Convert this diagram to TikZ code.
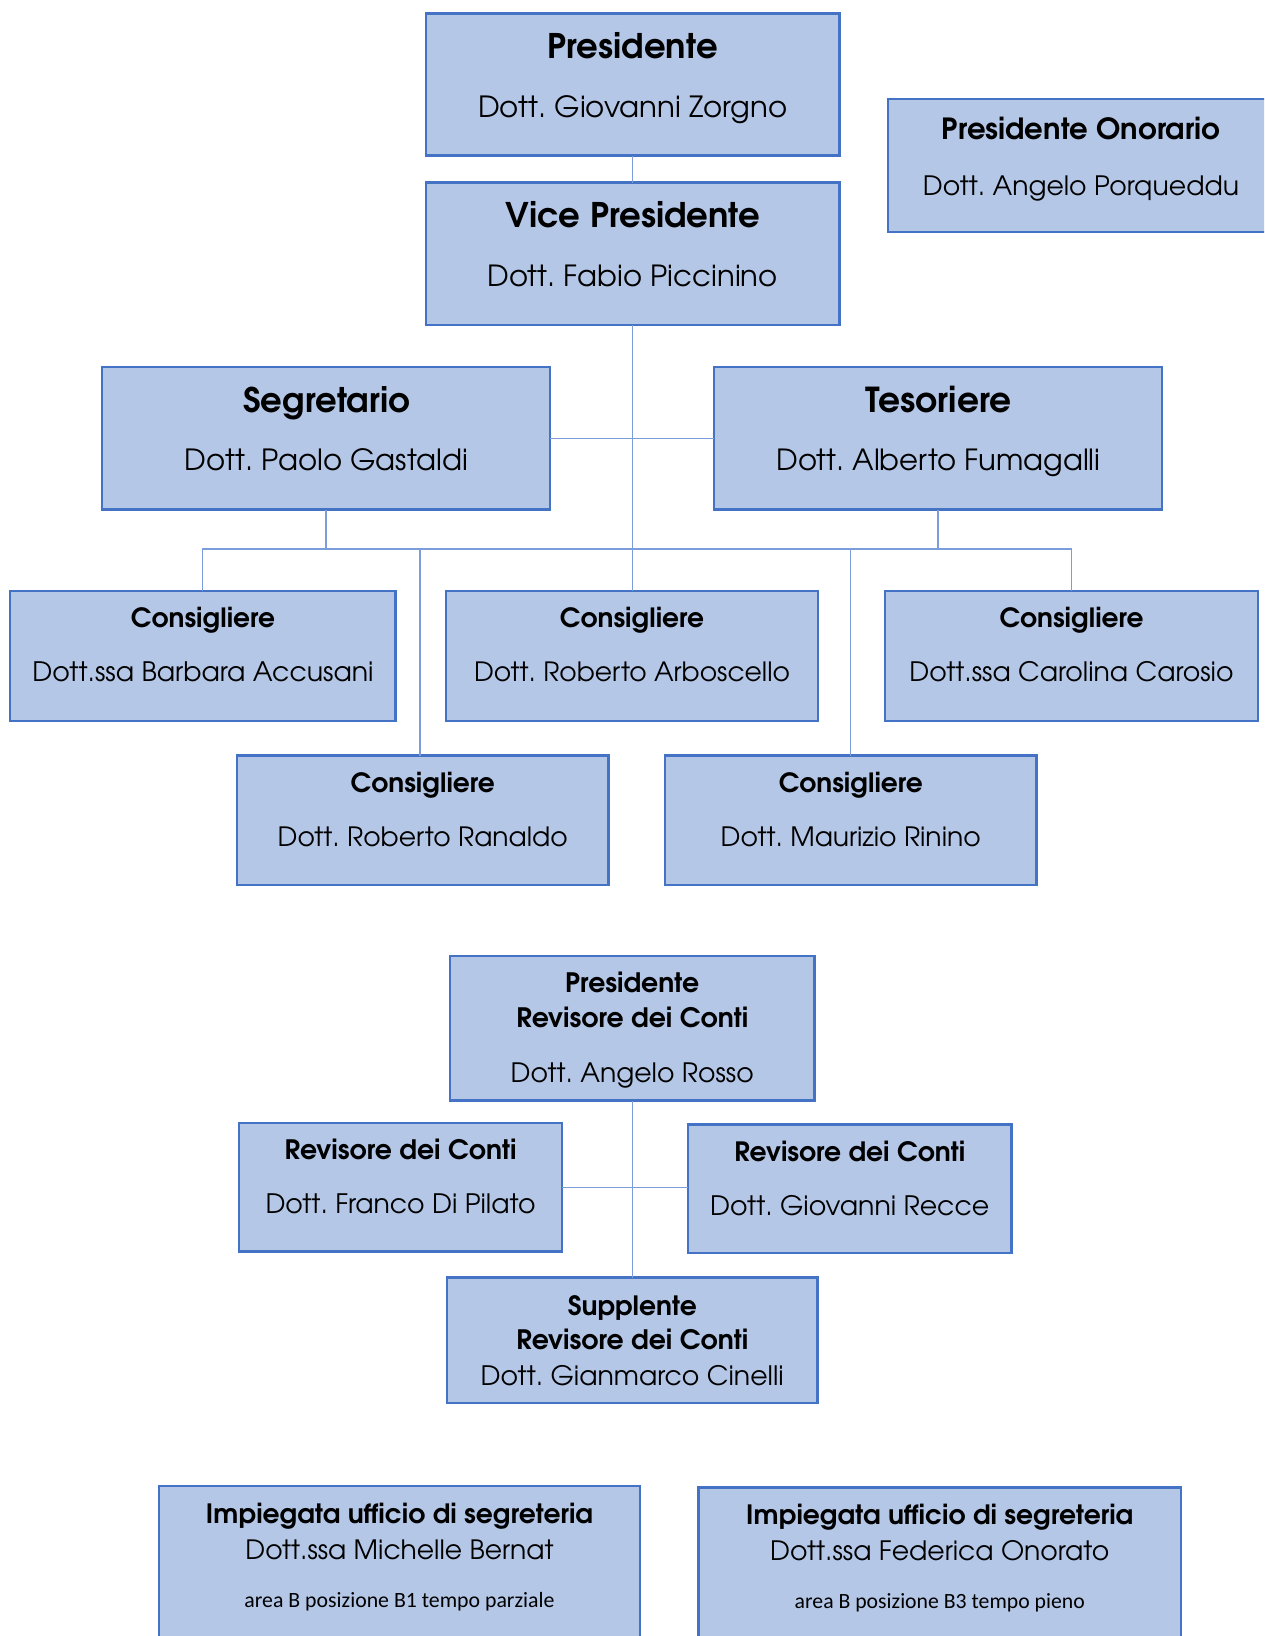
\documentclass[tikz,border=0pt]{standalone}
\usepackage{fontspec}
\setmainfont{TeX Gyre Adventor}
\newfontfamily\smallfont{Carlito}
\usepackage{graphicx}
\frenchspacing
\definecolor{boxfill}{HTML}{B4C7E7}
\definecolor{boxline}{HTML}{4472C4}
\definecolor{conn}{HTML}{7B9DDA}
\tikzset{
  orgbox/.style={draw=boxline, fill=boxfill, line width=2.2pt, inner sep=0pt, outer sep=0pt, anchor=north west},
  link/.style={draw=conn, line width=1.3pt},
  txt/.style={anchor=base, inner sep=0pt, outer sep=0pt, text=black},
}
\newcommand\fitw[2]{\resizebox{#1pt}{!}{#2}}
\newcommand\fitb[2]{\resizebox{#1pt}{!}{\bfseries #2}}
\newcommand\fits[2]{\resizebox{#1pt}{!}{\smallfont #2}}
\begin{document}
\begin{tikzpicture}[x=1pt,y=-1pt]
\useasboundingbox (0,0) rectangle (1264,1636);
\clip (0,0) rectangle (1264,1636);
% boxes
\node[orgbox, minimum width=413.5pt, minimum height=142pt] (pres) at (426,13.5) {};
\node[orgbox, minimum width=413.5pt, minimum height=142.5pt] (vp) at (426,182.5) {};
\node[orgbox, minimum width=390pt, minimum height=133pt] (onor) at (888,99) {};
\node[orgbox, minimum width=448pt, minimum height=142.5pt] (seg) at (102,367) {};
\node[orgbox, minimum width=448pt, minimum height=142.5pt] (tes) at (714,367) {};
\node[orgbox, minimum width=385.5pt, minimum height=130pt] (barb) at (10,591) {};
\node[orgbox, minimum width=372pt, minimum height=130pt] (arbo) at (446,591) {};
\node[orgbox, minimum width=373pt, minimum height=130pt] (caro) at (885,591) {};
\node[orgbox, minimum width=371.5pt, minimum height=129.5pt] (rana) at (237,755.5) {};
\node[orgbox, minimum width=371.5pt, minimum height=129.5pt] (rini) at (665,755.5) {};
\node[orgbox, minimum width=364.5pt, minimum height=144.5pt] (prev) at (450,956) {};
\node[orgbox, minimum width=323pt, minimum height=128.5pt] (franco) at (239,1123) {};
\node[orgbox, minimum width=323.5pt, minimum height=128.5pt] (recce) at (688,1124.5) {};
\node[orgbox, minimum width=370.5pt, minimum height=125.5pt] (supp) at (447,1277.5) {};
\node[orgbox, minimum width=481pt, minimum height=200pt] (imp1) at (159,1486) {};
\node[orgbox, minimum width=482.5pt, minimum height=200pt] (imp2) at (698.5,1487.5) {};
% connectors
\coordinate (bus) at (632.5,549);
\coordinate (ranaUp) at (420,755.5);
\draw[link] (pres.south) -- (vp.north);
\draw[link] (vp.south) -- (vp.south |- arbo.north);
\draw[link] (seg.east) -- (seg.east -| tes.west);
\draw[link] (seg.south) -- (seg.south |- bus);
\draw[link] (tes.south) -- (tes.south |- bus);
\draw[link] (barb.north) -- (barb.north |- bus) -- (caro.north |- bus) -- (caro.north);
\draw[link] (ranaUp) -- (ranaUp |- bus);
\draw[link] (rini.north) -- (rini.north |- bus);
\draw[link] (prev.south) -- (prev.south |- supp.north);
\draw[link] (franco.east) -- (franco.east -| recce.west);
% texts
\node[txt] (presT) at (632.75,58) {\fitb{170}{Presidente}};
\node[txt] (presN) at (632.75,117) {\fitw{309}{Dott. Giovanni Zorgno}};
\node[txt] (vpT) at (632.75,227.5) {\fitb{255}{Vice Presidente}};
\node[txt] (vpN) at (632.75,286) {\fitw{290}{Dott. Fabio Piccinino}};
\node[txt] (onorT) at (1081,139) {\fitb{278}{Presidente Onorario}};
\node[txt] (onorN) at (1081,195) {\fitw{316}{Dott. Angelo Porqueddu}};
\node[txt] (segT) at (326.5,412) {\fitb{167}{Segretario}};
\node[txt] (segN) at (326.5,470.5) {\fitw{283}{Dott. Paolo Gastaldi}};
\node[txt] (tesT) at (938.5,412) {\fitb{146}{Tesoriere}};
\node[txt] (tesN) at (938.5,470.5) {\fitw{324}{Dott. Alberto Fumagalli}};
\node[txt] (barbT) at (203,627.5) {\fitb{144}{Consigliere}};
\node[txt] (barbN) at (203,681.5) {\fitw{341}{Dott.ssa Barbara Accusani}};
\node[txt] (arboT) at (632,627.5) {\fitb{144}{Consigliere}};
\node[txt] (arboN) at (632,681.5) {\fitw{316}{Dott. Roberto Arboscello}};
\node[txt] (caroT) at (1071.5,627.5) {\fitb{144}{Consigliere}};
\node[txt] (caroN) at (1071.5,681.5) {\fitw{324}{Dott.ssa Carolina Carosio}};
\node[txt] (ranaT) at (422.75,792.5) {\fitb{144}{Consigliere}};
\node[txt] (ranaN) at (422.75,846.5) {\fitw{290}{Dott. Roberto Ranaldo}};
\node[txt] (riniT) at (850.75,792.5) {\fitb{144}{Consigliere}};
\node[txt] (riniN) at (850.75,846.5) {\fitw{260}{Dott. Maurizio Rinino}};
\node[txt] (prevT1) at (632.25,992) {\fitb{134}{Presidente}};
\node[txt] (prevT2) at (632.25,1027.5) {\fitb{232}{Revisore dei Conti}};
\node[txt] (prevN) at (632.25,1082) {\fitw{243}{Dott. Angelo Rosso}};
\node[txt] (francoT) at (400.5,1159) {\fitb{232}{Revisore dei Conti}};
\node[txt] (francoN) at (400.5,1213.5) {\fitw{270}{Dott. Franco Di Pilato}};
\node[txt] (recceT) at (849.75,1161) {\fitb{231}{Revisore dei Conti}};
\node[txt] (recceN) at (849.75,1215.5) {\fitw{279}{Dott. Giovanni Recce}};
\node[txt] (suppT1) at (632.25,1315) {\fitb{129}{Supplente}};
\node[txt] (suppT2) at (632.25,1349.5) {\fitb{232}{Revisore dei Conti}};
\node[txt] (suppN) at (632.25,1385) {\fitw{303}{Dott. Gianmarco Cinelli}};
\node[txt] (imp1T) at (399.5,1523.5) {\fitb{387}{Impiegata ufficio di segreteria}};
\node[txt] (imp1N) at (399.5,1559) {\fitw{308}{Dott.ssa Michelle Bernat}};
\node[txt] (imp1S) at (399.5,1607) {\fits{310}{area B posizione B1 tempo parziale}};
\node[txt] (imp2T) at (939.75,1524.5) {\fitb{387}{Impiegata ufficio di segreteria}};
\node[txt] (imp2N) at (939.75,1560) {\fitw{339}{Dott.ssa Federica Onorato}};
\node[txt] (imp2S) at (939.75,1608) {\fits{290}{area B posizione B3 tempo pieno}};
\end{tikzpicture}
\end{document}
